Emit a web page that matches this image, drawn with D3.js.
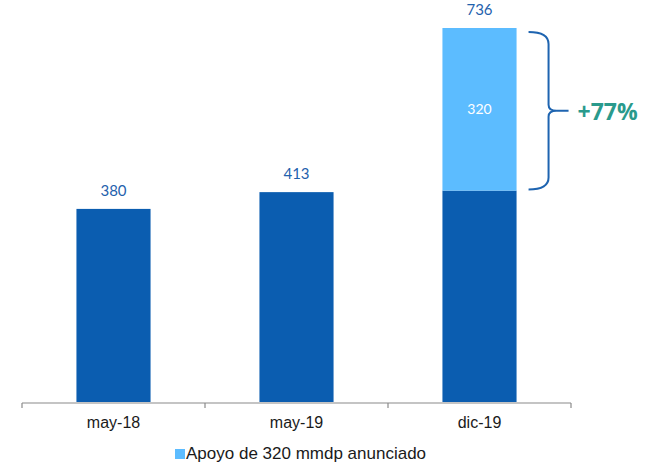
<!DOCTYPE html>
<html>
<head>
<meta charset="utf-8">
<script src="https://cdn.jsdelivr.net/npm/d3@7"></script>
<style>
  html, body { margin: 0; padding: 0; background: #fff; }
  svg { display: block; }
</style>
</head>
<body>
<svg id="chart" width="650" height="464"></svg>
<script>
// Saldo por fecha (mmdp)
const categories = ["may-18", "may-19", "dic-19"];
const baseValues = [380, 413, 416];
const supportValues = [0, 0, 320];
const totalLabels = [380, 413, 736];
const supportLabel = "Apoyo de 320 mmdp anunciado";
const growthLabel = "+77%";

const svg = d3.select("#chart");
const colors = { base: "#0b5db0", support: "#5cbcff", label: "#1f62ad", growth: "#2a9a8c", axis: "#8a8a8a" };

const x = d3.scaleBand().domain(categories).range([22, 571]).paddingInner(0.595).paddingOuter(0.2975);
const y = d3.scaleLinear().domain([0, d3.max(totalLabels)]).range([402, 28]);

const rows = categories.map((c, i) => ({ c, base: baseValues[i], sup: supportValues[i], total: totalLabels[i] }));

// base bars
svg.append("g").selectAll("rect").data(rows).join("rect")
  .attr("x", d => x(d.c)).attr("width", x.bandwidth())
  .attr("y", d => y(d.base)).attr("height", d => y(0) - y(d.base))
  .attr("fill", colors.base);

// announced support segments
const sup = rows.filter(d => d.sup > 0);
svg.append("g").selectAll("rect").data(sup).join("rect")
  .attr("x", d => x(d.c)).attr("width", x.bandwidth())
  .attr("y", d => y(d.base + d.sup)).attr("height", d => y(d.base) - y(d.base + d.sup))
  .attr("fill", colors.support);

svg.append("g").selectAll("text").data(sup).join("text")
  .attr("x", d => x(d.c) + x.bandwidth() / 2)
  .attr("y", d => y(d.base + d.sup / 2) + 5)
  .attr("text-anchor", "middle")
  .attr("font-family", "Lato, 'Open Sans', sans-serif").attr("font-size", 14)
  .attr("fill", "#fff").text(d => d.sup);

// totals above bars
svg.append("g").selectAll("text").data(rows).join("text")
  .attr("x", d => x(d.c) + x.bandwidth() / 2)
  .attr("y", d => y(d.total) - 13)
  .attr("text-anchor", "middle")
  .attr("font-family", "Lato, 'Open Sans', sans-serif").attr("font-size", 15)
  .attr("fill", colors.label).text(d => d.total);

// x axis
const axis = d3.axisBottom(x).tickSize(0).tickPadding(14);
const gx = svg.append("g").attr("transform", `translate(0,${y(0) + 1})`).call(axis);
gx.select(".domain").attr("stroke", colors.axis).attr("stroke-width", 1.2).attr("d", "M22,0H571");
gx.selectAll(".tick text").attr("font-family", "'Liberation Sans', Arial, sans-serif")
  .attr("font-size", 16).attr("fill", "#1a1a1a");
// category boundary ticks
const [r0, r1] = x.range();
const edges = d3.range(categories.length + 1).map(i => r0 + i * (r1 - r0) / categories.length);
gx.selectAll("line.edge").data(edges).join("line").attr("class", "edge")
  .attr("x1", d => d).attr("x2", d => d).attr("y1", 0).attr("y2", 5)
  .attr("stroke", colors.axis).attr("stroke-width", 1.2);

// curly brace spanning the support segment
const last = sup[0];
const bTop = y(last.base + last.sup) + 4, bBot = y(last.base) - 1;
const bx = x(last.c) + x.bandwidth() + 12, bw = 20, tip = 20;
const mid = (bTop + bBot) / 2;
const r = 6;
const brace = d3.path();
brace.moveTo(bx, bTop);
brace.quadraticCurveTo(bx + bw, bTop, bx + bw, bTop + r * 2);
brace.lineTo(bx + bw, mid - r);
brace.quadraticCurveTo(bx + bw, mid, bx + bw + r * 1.3, mid);
brace.lineTo(bx + bw + tip, mid);
brace.moveTo(bx + bw + r * 1.3, mid);
brace.quadraticCurveTo(bx + bw, mid, bx + bw, mid + r);
brace.lineTo(bx + bw, bBot - r * 2);
brace.quadraticCurveTo(bx + bw, bBot, bx, bBot);
svg.append("path").attr("d", brace.toString()).attr("fill", "none")
  .attr("stroke", "#1e64b0").attr("stroke-width", 2);

svg.append("text").attr("x", bx + bw + tip + 9).attr("y", mid + 9)
  .attr("font-family", "'Open Sans', Lato, sans-serif").attr("font-weight", 700)
  .attr("font-size", 23).attr("fill", colors.growth).text(growthLabel);

// legend
const lg = svg.append("g").attr("transform", "translate(175,449)");
lg.append("rect").attr("width", 10).attr("height", 10).attr("fill", colors.support);
lg.append("text").attr("x", 11).attr("y", 10)
  .attr("font-family", "'Liberation Sans', Arial, sans-serif").attr("font-size", 17)
  .attr("fill", "#1a1a1a").text(supportLabel);
</script>
</body>
</html>
